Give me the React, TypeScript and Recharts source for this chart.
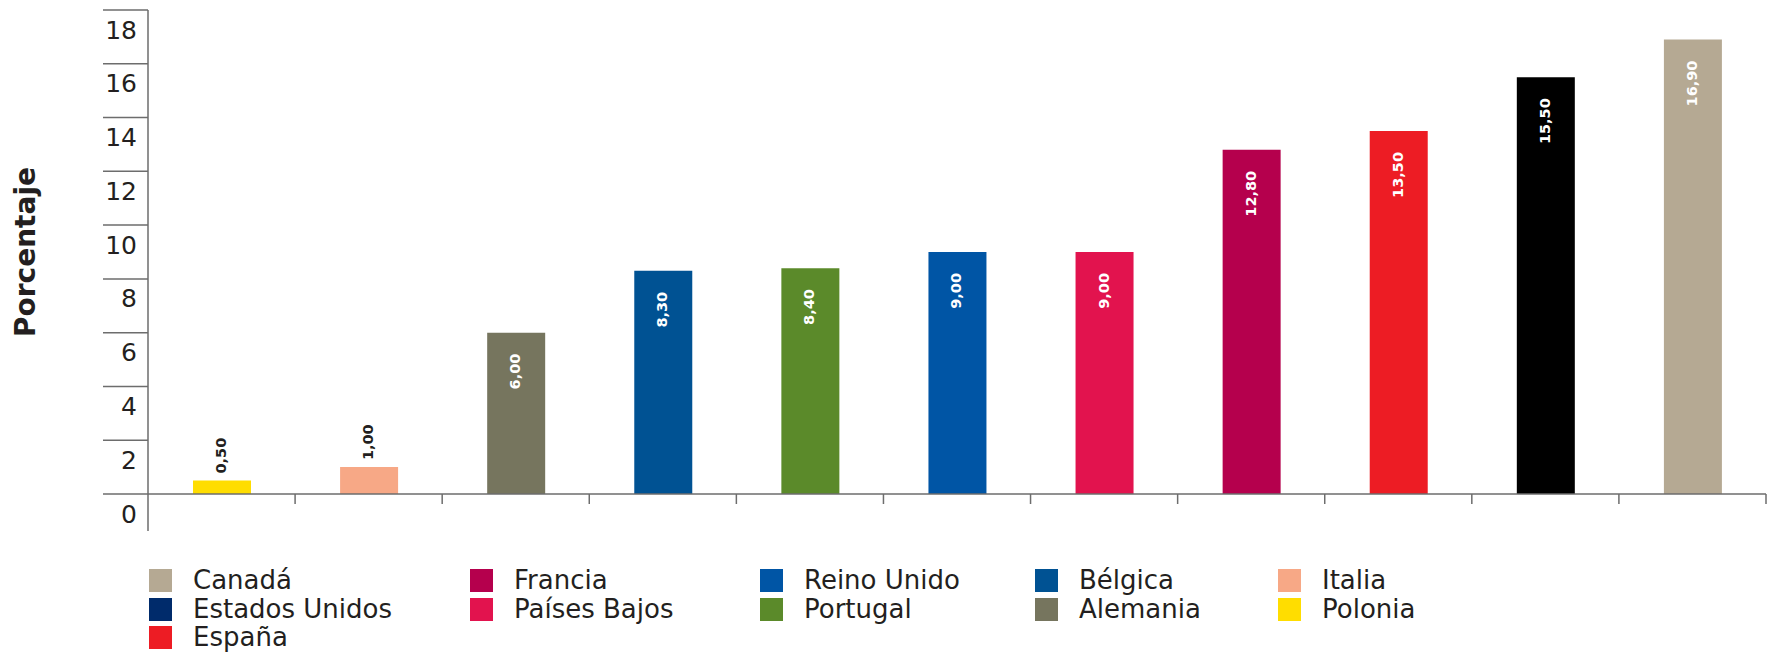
import React from 'react';
import { BarChart, Bar, XAxis, YAxis, Cell, LabelList } from 'recharts';

const categories = ['Polonia', 'Italia', 'Alemania', 'Bélgica', 'Portugal', 'Reino Unido', 'Países Bajos', 'Francia', 'España', 'Estados Unidos', 'Canadá'];
const values = [0.5, 1.0, 6.0, 8.3, 8.4, 9.0, 9.0, 12.8, 13.5, 15.5, 16.9];
const barColors = ['#FFDD00', '#F7A886', '#76755E', '#005293', '#5B8A2A', '#0055A5', '#E2134E', '#B5004D', '#ED1C24', '#000000', '#B5A993'];
const legendNames = ['Canadá', 'Estados Unidos', 'España', 'Francia', 'Países Bajos', 'Reino Unido', 'Portugal', 'Bélgica', 'Alemania', 'Italia', 'Polonia'];
const legendColors = ['#B5A993', '#002B6B', '#ED1C24', '#B5004D', '#E2134E', '#0055A5', '#5B8A2A', '#005293', '#76755E', '#F7A886', '#FFDD00'];
const legendColumnSizes = [3, 2, 2, 2, 2];
const yTicks = [0, 2, 4, 6, 8, 10, 12, 14, 16, 18];
const yLabel = 'Porcentaje';

const data = categories.map((c, i) => ({ name: c, value: values[i] }));

const FONT = '"DejaVu Sans", Verdana, sans-serif';
const AXIS_COLOR = '#6d6d6d';
const W = 1773;
const H = 652;
const legendLefts = [149, 470, 760, 1035, 1278];
const legendTop = 569;
const legendRowPitch = 28.5;

const fmt = (v: number) => v.toFixed(2).replace('.', ',');

const YTick = (props: any) => {
  const { x, y, payload } = props;
  const axisX = x + 45;
  return (
    <g>
      <text x={axisX - 11} y={y + 20} textAnchor="end" dominantBaseline="central" fontFamily={FONT} fontSize={25} fill="#231f20">
        {payload.value}
      </text>
      {payload.value === 0 ? <line x1={axisX} x2={axisX} y1={y} y2={y + 37} stroke={AXIS_COLOR} strokeWidth={1.5} /> : null}
    </g>
  );
};

const XTick = (props: any) => {
  const { x, y, width, visibleTicksCount, payload } = props;
  const off = payload && typeof payload.offset === 'number' && payload.offset > 0 ? payload.offset : width / (2 * (visibleTicksCount || categories.length));
  return <line x1={x + off} x2={x + off} y1={y} y2={y + 10} stroke={AXIS_COLOR} strokeWidth={1.5} />;
};

const BarLabel = (props: any) => {
  const { x, y, width, value } = props;
  const cx = x + width / 2 - 1;
  if (value < 3) {
    return (
      <text x={cx} y={y - 7} transform={`rotate(-90 ${cx} ${y - 7})`} textAnchor="start" dominantBaseline="central" fontFamily={FONT} fontWeight="bold" fontSize={14.5} fill="#231f20">
        {fmt(value)}
      </text>
    );
  }
  return (
    <text x={cx} y={y + 21} transform={`rotate(-90 ${cx} ${y + 21})`} textAnchor="end" dominantBaseline="central" fontFamily={FONT} fontWeight="bold" fontSize={14.5} fill="#ffffff">
      {fmt(value)}
    </text>
  );
};

const YTitle = (props: any) => {
  const vb = props.viewBox || {};
  const cy = vb.y + vb.height / 2;
  const cx = 25;
  return (
    <text x={cx} y={cy} transform={`rotate(-90 ${cx} ${cy})`} textAnchor="middle" dominantBaseline="central" fontFamily={FONT} fontWeight="bold" fontSize={28} fill="#231f20">
      {yLabel}
    </text>
  );
};

function LegendBlock() {
  const items: React.ReactNode[] = [];
  let idx = 0;
  legendColumnSizes.forEach((n, col) => {
    for (let r = 0; r < n; r++) {
      const i = idx++;
      items.push(
        <div key={i} style={{ position: 'absolute', left: legendLefts[col], top: legendTop + r * legendRowPitch, display: 'flex', alignItems: 'center', height: 23 }}>
          <div style={{ width: 23, height: 23, background: legendColors[i], marginRight: 21, flexShrink: 0 }} />
          <span style={{ fontFamily: FONT, fontSize: 26, color: '#231f20', whiteSpace: 'nowrap', lineHeight: '23px' }}>{legendNames[i]}</span>
        </div>
      );
    }
  });
  return <>{items}</>;
}

export default function App() {
  return (
    <div style={{ position: 'absolute', left: 0, top: 0, width: W, height: H, background: '#fff' }}>
      <BarChart width={W} height={H} data={data} margin={{ top: 10, right: 7, left: 0, bottom: 128 }} barCategoryGap={0}>
        <XAxis dataKey="name" height={30} axisLine={{ stroke: AXIS_COLOR, strokeWidth: 1.5 }} tickLine={false} tickSize={0} tickMargin={0} tick={<XTick />} interval={0} />
        <YAxis width={148} domain={[0, 18]} ticks={yTicks} interval={0} axisLine={{ stroke: AXIS_COLOR, strokeWidth: 1.5 }} tickLine={{ stroke: AXIS_COLOR, strokeWidth: 1.5 }} tickSize={45} tickMargin={0} tick={<YTick />} label={<YTitle />} />
        <Bar dataKey="value" barSize={58} isAnimationActive={false}>
          {data.map((d, i) => (
            <Cell key={d.name} fill={barColors[i]} />
          ))}
          <LabelList dataKey="value" content={<BarLabel />} />
        </Bar>
      </BarChart>
      <LegendBlock />
    </div>
  );
}
